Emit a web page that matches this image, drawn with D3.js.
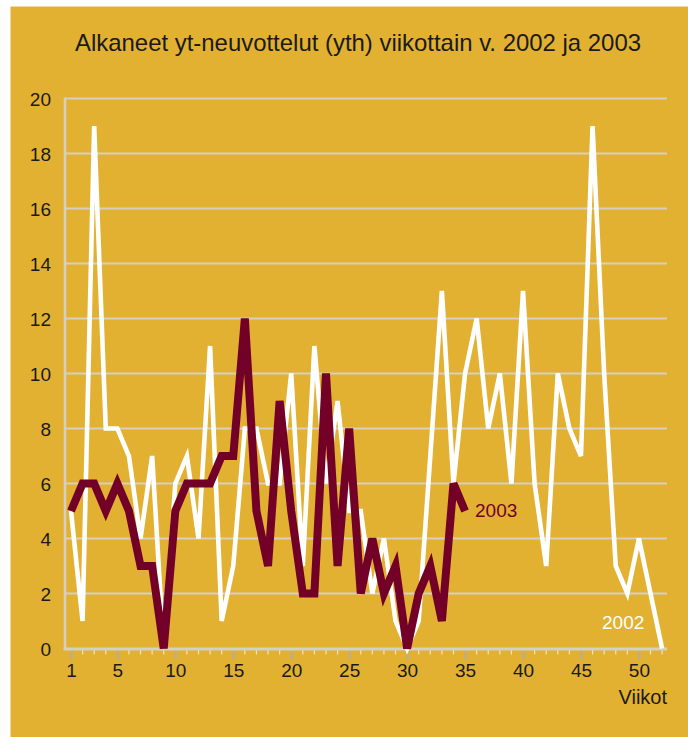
<!DOCTYPE html>
<html>
<head>
<meta charset="utf-8">
<script src="https://cdn.jsdelivr.net/npm/d3@7"></script>
<style>
html,body{margin:0;padding:0;background:#ffffff;}
svg{display:block;}
</style>
</head>
<body>
<svg id="chart" width="688" height="737"></svg>
<script>
const title = "Alkaneet yt-neuvottelut (yth) viikottain v. 2002 ja 2003";
const weeks = [1,2,3,4,5,6,7,8,9,10,11,12,13,14,15,16,17,18,19,20,21,22,23,24,25,26,
  27,28,29,30,31,32,33,34,35,36,37,38,39,40,41,42,43,44,45,46,47,48,49,50,51,52];
const values2002 = [5,1,19,8,8,7,4,7,0,6,7,4,11,1,3,8,8,6,6,10,3,11,6,9,5,5,
  2,4,1,0,1,7,13,6,10,12,8,10,6,13,6,3,10,8,7,19,10,3,2,4,2,0];
const values2003 = [5,6,6,5,6,5,3,3,0,5,6,6,6,7,7,12,5,3,9,5,2,2,10,3,8,2,
  4,2,3,0,2,3,1,6,5];
const yTicks = [0,2,4,6,8,10,12,14,16,18,20];
const xMajorTicks = [1,5,10,15,20,25,30,35,40,45,50];
const xAxisLabel = "Viikot";
const label2002 = "2002";
const label2003 = "2003";

const svg = d3.select("#chart");
const W = 688, H = 737;

svg.append("rect").attr("x", 10.5).attr("y", 6.5).attr("width", W - 10.5).attr("height", H - 6.5)
  .attr("fill", "#E2B131");

const x = d3.scaleLinear().domain([1, 52]).range([71, 662.1]);
const y = d3.scaleLinear().domain([0, 20]).range([648.5, 98.5]);
const axisLeft = 65, axisRight = 667;

const numFont = "'Liberation Sans', Arial, sans-serif";
const narrowFont = "'Liberation Sans Narrow', 'Arial Narrow', 'Liberation Sans', sans-serif";

// title
svg.append("text").attr("x", 358).attr("y", 51)
  .attr("text-anchor", "middle")
  .attr("font-family", numFont).attr("font-size", 24)
  .attr("textLength", 566).attr("lengthAdjust", "spacingAndGlyphs")
  .attr("fill", "#1a1a1a").text(title);

// grid lines
svg.append("g").selectAll("line").data(yTicks.filter(d => d > 0)).join("line")
  .attr("x1", axisLeft).attr("x2", axisRight)
  .attr("y1", d => y(d)).attr("y2", d => y(d))
  .attr("stroke", "#D6CFC3").attr("stroke-width", 2.2);

// y axis line
svg.append("line").attr("x1", axisLeft).attr("x2", axisLeft)
  .attr("y1", y(20) - 1).attr("y2", y(0) + 1.5)
  .attr("stroke", "#D6CFC3").attr("stroke-width", 2.6);

// y labels
const yAxis = d3.axisLeft(y).tickValues(yTicks).tickSize(0).tickPadding(0);
const gy = svg.append("g").attr("transform", "translate(51,0)").call(yAxis);
gy.select(".domain").remove();
gy.selectAll("text").attr("font-family", numFont).attr("font-size", 19)
  .attr("fill", "#1a1a1a").attr("dy", "0.36em").attr("x", 0);

// minor ticks (every week)
svg.append("g").selectAll("line").data(weeks.filter(w => !xMajorTicks.includes(w))).join("line")
  .attr("x1", d => x(d)).attr("x2", d => x(d))
  .attr("y1", y(0)).attr("y2", y(0) + 6)
  .attr("stroke", "#EDE3C6").attr("stroke-width", 1.2);

// major ticks + labels
const xAxis = d3.axisBottom(x).tickValues(xMajorTicks).tickSize(11).tickPadding(4)
  .tickFormat(d3.format("d"));
const gx = svg.append("g").attr("transform", `translate(0,${y(0)})`).call(xAxis);
gx.select(".domain").remove();
gx.selectAll(".tick line").attr("stroke", "#B8AE98").attr("stroke-width", 2.2);
gx.selectAll("text").attr("font-family", numFont).attr("font-size", 19)
  .attr("fill", "#1a1a1a");

// x axis line
svg.append("line").attr("x1", axisLeft - 1.3).attr("x2", axisRight)
  .attr("y1", y(0) + 0.5).attr("y2", y(0) + 0.5)
  .attr("stroke", "#D6CFC3").attr("stroke-width", 3);

svg.append("text").attr("x", axisRight).attr("y", 704)
  .attr("text-anchor", "end")
  .attr("font-family", narrowFont).attr("font-size", 20)
  .attr("fill", "#1a1a1a").text(xAxisLabel);

// lines
const line = d3.line().x((d, i) => x(weeks[i])).y(d => y(d));

svg.append("path").datum(values2002)
  .attr("d", line).attr("fill", "none")
  .attr("stroke", "#FFFFFF").attr("stroke-width", 4.6);

svg.append("path").datum(values2003)
  .attr("d", line).attr("fill", "none")
  .attr("stroke", "#720027").attr("stroke-width", 8);

svg.append("text").attr("x", 475).attr("y", 517)
  .attr("font-family", numFont).attr("font-size", 19)
  .attr("fill", "#720027").text(label2003);

svg.append("text").attr("x", 602).attr("y", 629)
  .attr("font-family", numFont).attr("font-size", 19)
  .attr("fill", "#FFFFFF").text(label2002);
</script>
</body>
</html>
